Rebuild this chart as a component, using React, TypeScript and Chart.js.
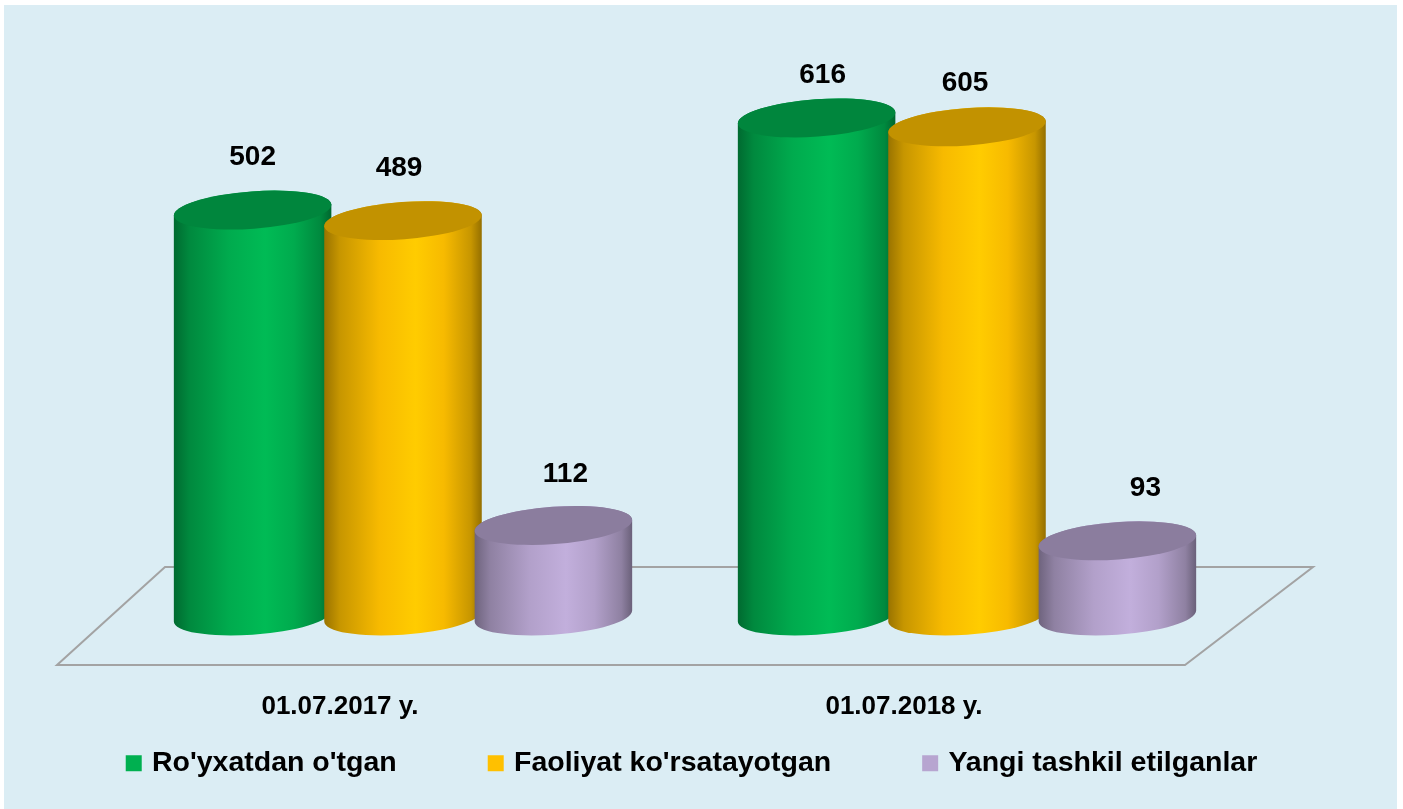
import React, { useEffect, useRef } from "react";
import { Chart, registerables } from "chart.js";

Chart.register(...registerables);

const categories = ["01.07.2017 y.", "01.07.2018 y."];
const seriesNames = ["Ro'yxatdan o'tgan", "Faoliyat ko'rsatayotgan", "Yangi tashkil etilganlar"];
const registered = [502, 616];
const active = [489, 605];
const newlyCreated = [112, 93];
const seriesColors = ["#00B050", "#FFC000", "#B7A5D0"];

const TILT = (-4.18 * Math.PI) / 180;
const MINOR = 18.65;
const FONT = "'Liberation Sans', Arial, sans-serif";
// fine placement of the value captions relative to their bar: [series][category]
const captionDx = [[0, 6], [-4, -2], [12, 28]];
const captionDy = [[53, 43], [52, 44], [51, 53]];

function shade(hex: string, f: number) {
  const n = parseInt(hex.slice(1), 16);
  const c = [(n >> 16) & 255, (n >> 8) & 255, n & 255].map((v) => Math.min(255, Math.round(v * f)));
  return `rgb(${c[0]},${c[1]},${c[2]})`;
}

function drawCylinder(ctx: CanvasRenderingContext2D, cx: number, top: number, base: number, width: number, color: string) {
  const a = width / 2;
  const tr = Math.atan(-(MINOR / a) * Math.tan(TILT));
  const tl = tr + Math.PI;
  const left = cx - a;
  const g = ctx.createLinearGradient(left, 0, left + width, 0);
  g.addColorStop(0, shade(color, 0.6));
  g.addColorStop(0.1, shade(color, 0.78));
  g.addColorStop(0.35, shade(color, 0.97));
  g.addColorStop(0.58, shade(color, 1.06));
  g.addColorStop(0.76, shade(color, 0.97));
  g.addColorStop(0.93, shade(color, 0.78));
  g.addColorStop(1, shade(color, 0.58));
  ctx.beginPath();
  ctx.ellipse(cx, base, a, MINOR, TILT, tl, tr, true);
  ctx.ellipse(cx, top, a, MINOR, TILT, tr, tl, true);
  ctx.closePath();
  ctx.fillStyle = g;
  ctx.fill();
  ctx.beginPath();
  ctx.ellipse(cx, top, a, MINOR, TILT, 0, Math.PI * 2);
  ctx.fillStyle = shade(color, 0.76);
  ctx.fill();
}

const scenePlugin = {
  id: "scene",
  afterLayout(chart: any) {
    chart.legend.top = 654;
    chart.legend.adjustHitBoxes();
    chart.scales.x.bottom = 735;
  },
  beforeDraw(chart: any) {
    const { ctx, width, height, chartArea: ca } = chart;
    ctx.save();
    ctx.fillStyle = "#DBEDF4";
    ctx.fillRect(4, 5, width - 10, height - 5);
    ctx.strokeStyle = "#A3A3A3";
    ctx.lineWidth = 2;
    ctx.lineJoin = "miter";
    ctx.beginPath();
    ctx.moveTo(ca.left - 64, ca.bottom + 49);
    ctx.lineTo(ca.right - 64, ca.bottom + 49);
    ctx.lineTo(ca.right + 64, ca.bottom - 49);
    ctx.lineTo(ca.left + 44, ca.bottom - 49);
    ctx.closePath();
    ctx.stroke();
    ctx.restore();
  },
  beforeDatasetsDraw(chart: any) {
    const { ctx } = chart;
    const base = chart.scales.y.getPixelForValue(0);
    ctx.save();
    chart.data.datasets.forEach((ds: any, i: number) => {
      const meta = chart.getDatasetMeta(i);
      meta.data.forEach((bar: any) => {
        drawCylinder(ctx, bar.x, bar.y, base, bar.width, ds.backgroundColor);
      });
    });
    ctx.fillStyle = "#000";
    ctx.font = `bold 28px ${FONT}`;
    ctx.textAlign = "center";
    ctx.textBaseline = "middle";
    chart.data.datasets.forEach((ds: any, i: number) => {
      chart.getDatasetMeta(i).data.forEach((bar: any, j: number) => {
        ctx.fillText(String(ds.data[j]), bar.x + captionDx[i][j], bar.y - captionDy[i][j]);
      });
    });
    ctx.restore();
    return false;
  },
};

export default function App() {
  const ref = useRef<HTMLCanvasElement>(null);
  useEffect(() => {
    document.body.style.margin = "0";
    const values = [registered, active, newlyCreated];
    const chart = new Chart(ref.current as HTMLCanvasElement, {
      type: "bar",
      plugins: [scenePlugin],
      data: {
        labels: categories,
        datasets: seriesNames.map((label, i) => ({
          label,
          data: values[i],
          backgroundColor: seriesColors[i],
          borderColor: seriesColors[i],
          borderWidth: 8,
          barPercentage: 1.05,
          categoryPercentage: 0.8,
        })),
      },
      options: {
        responsive: false,
        animation: false,
        events: [],
        layout: { padding: { top: 50, right: 16, left: 0, bottom: 0 } },
        plugins: {
          tooltip: { enabled: false },
          title: { display: false },
          legend: {
            display: true,
            position: "bottom",
            labels: {
              boxWidth: 8,
              boxHeight: 8,
              padding: 95,
              color: "#000",
              font: { family: FONT, size: 28.5, weight: "bold" },
            },
          },
        },
        scales: {
          x: {
            grid: { display: false },
            border: { display: false },
            ticks: {
              color: "#000",
              padding: 67,
              labelOffset: -63,
              maxRotation: 0,
              autoSkip: false,
              font: { family: FONT, size: 26, weight: "bold" },
            },
            afterFit(scale: any) {
              scale.height = 59.5;
            },
          },
          y: {
            min: 0,
            max: 700,
            grid: { display: false },
            border: { display: false },
            ticks: { display: false },
            afterFit(scale: any) {
              scale.width = 121;
            },
          },
          y2: {
            position: "right",
            min: 0,
            max: 1,
            grid: { display: false },
            border: { display: false },
            ticks: { display: false },
            afterFit(scale: any) {
              scale.width = 138;
            },
          },
        },
      } as any,
    });
    return () => chart.destroy();
  }, []);
  return <canvas ref={ref} width={1403} height={809} style={{ display: "block" }} />;
}
